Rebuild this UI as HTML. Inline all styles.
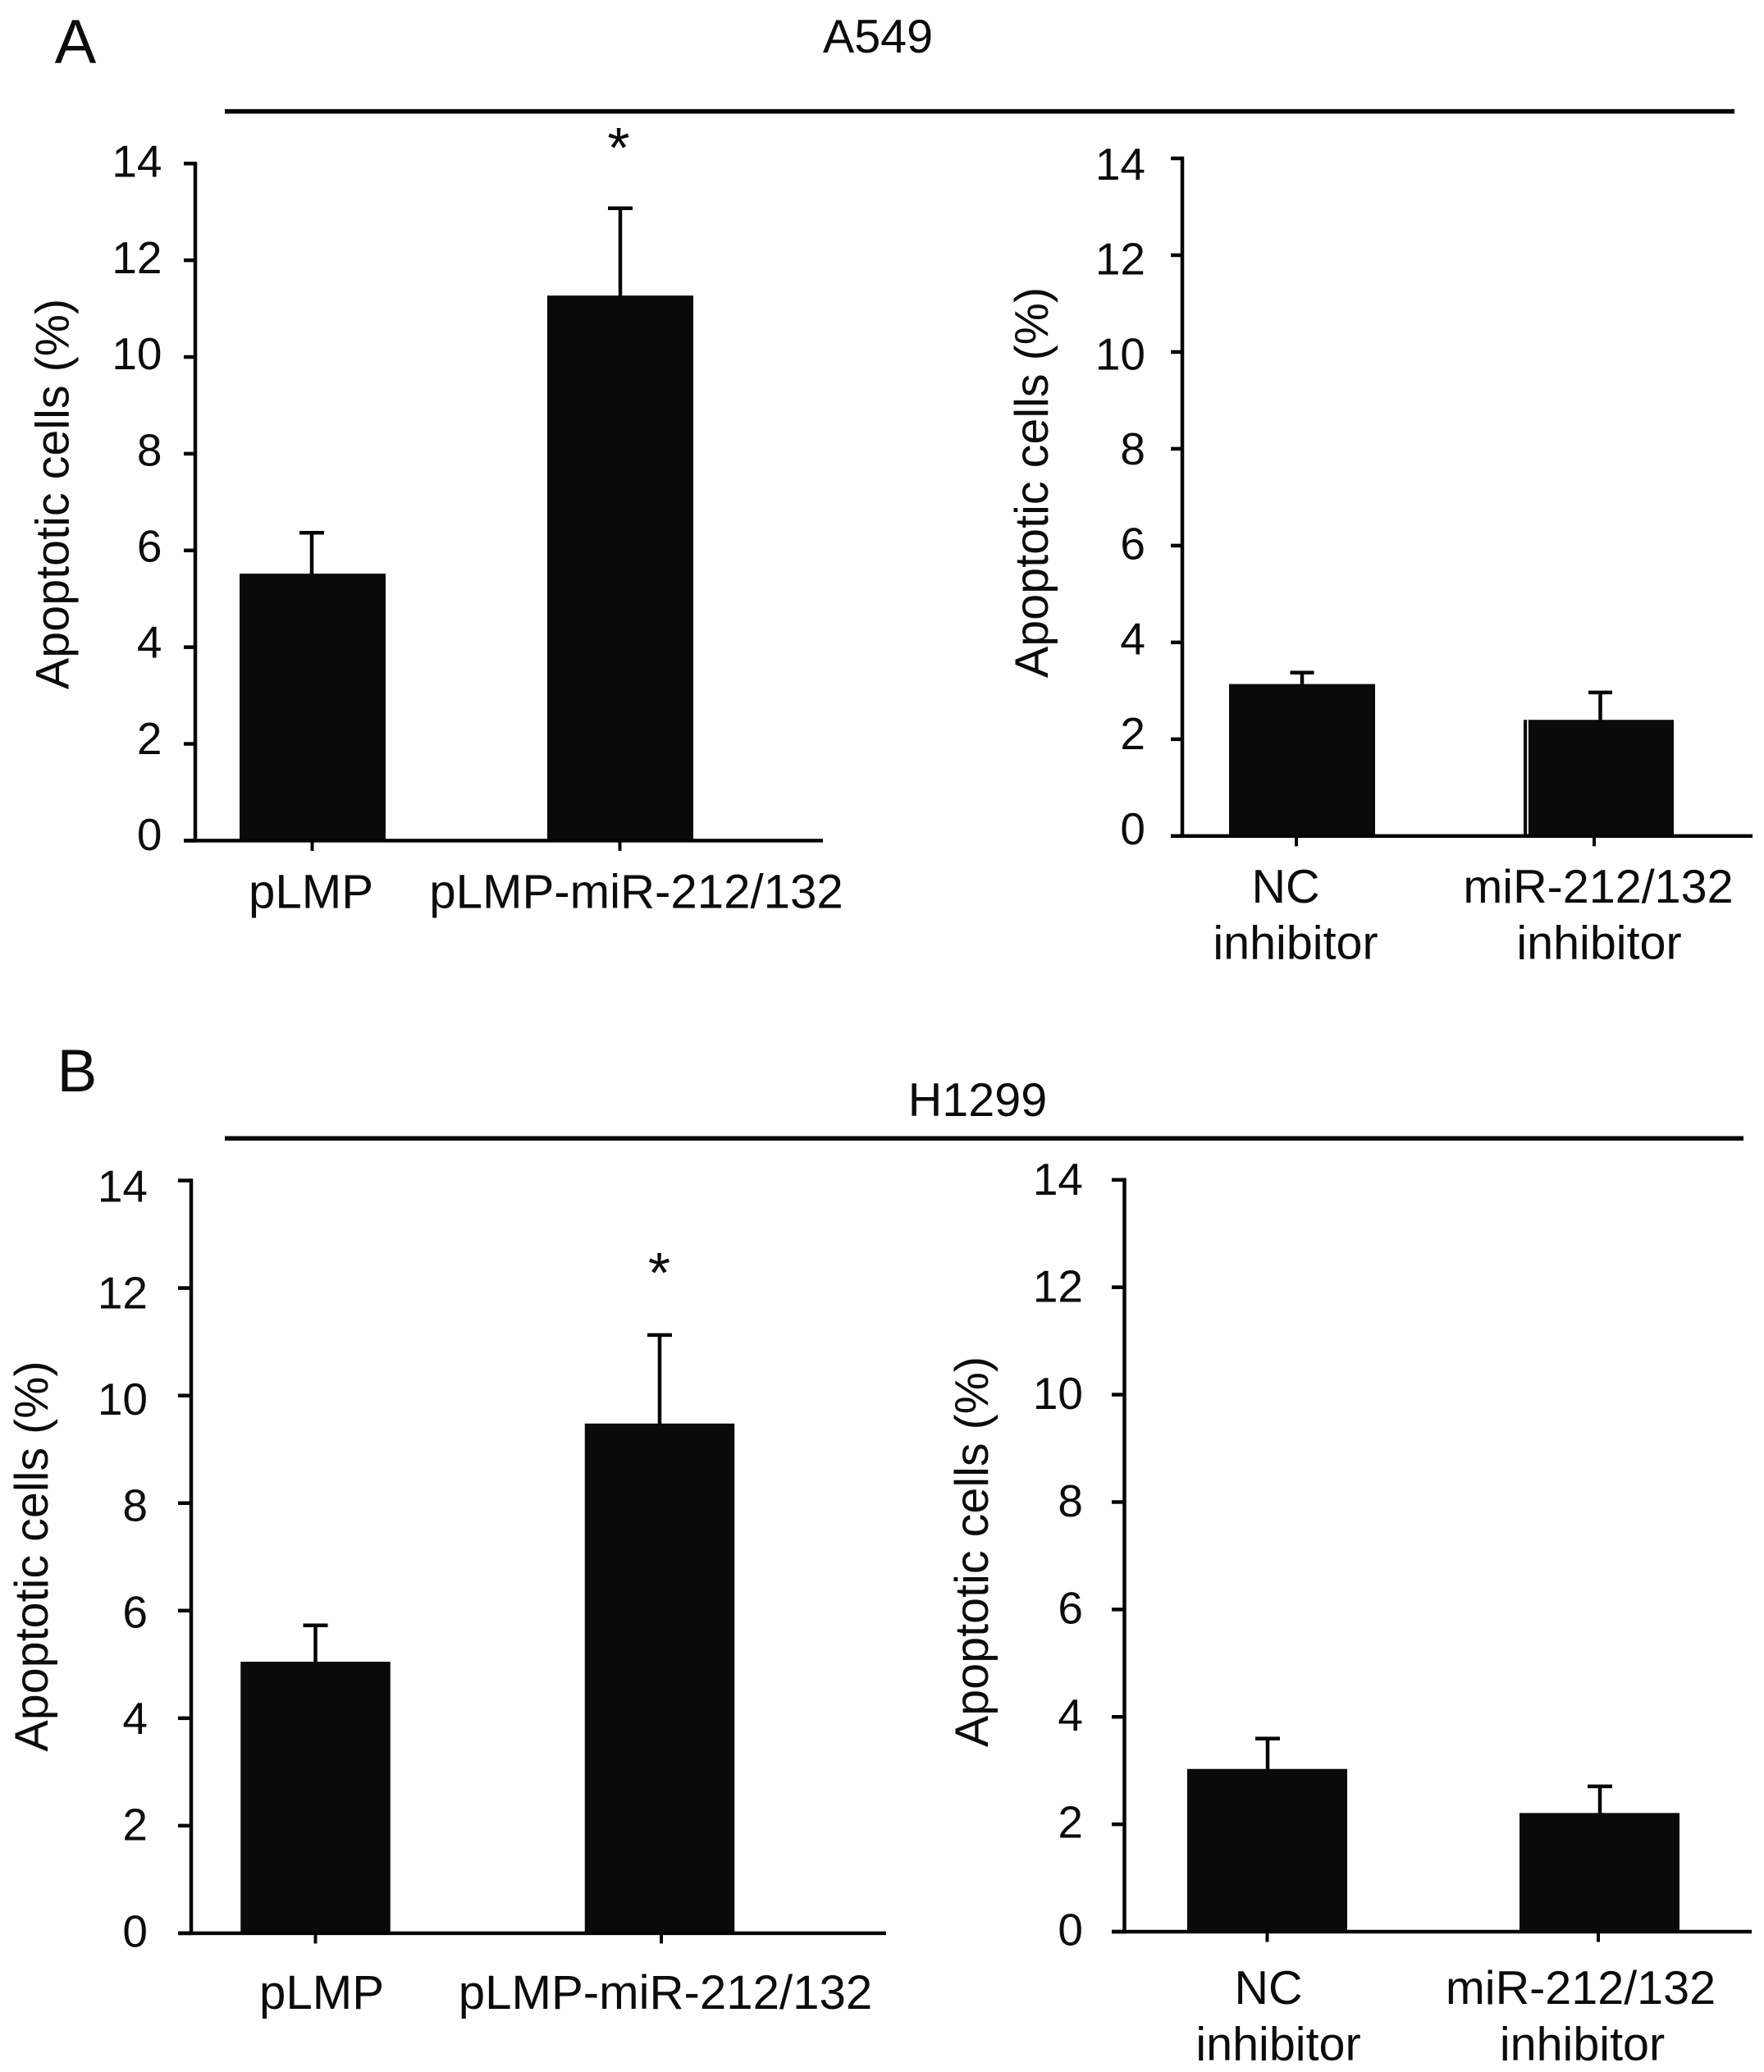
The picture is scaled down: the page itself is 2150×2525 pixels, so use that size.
<!DOCTYPE html>
<html lang="en">
<head>
<meta charset="utf-8">
<title>Apoptotic cells in A549 and H1299</title>
<style>
html,body{margin:0;padding:0;background:#fff;width:2150px;height:2525px;overflow:hidden}
svg{display:block}
text{font-family:"Liberation Sans",Arial,sans-serif;fill:#0c0c0c}
</style>
</head>
<body>
<svg id="figure" width="2150" height="2525" viewBox="0 0 2150 2525" xmlns="http://www.w3.org/2000/svg">
  <rect x="0" y="0" width="2150" height="2525" fill="#ffffff"/>
  <text font-size="76" text-anchor="middle" x="92" y="77">A</text>
  <text font-size="73" text-anchor="middle" x="94" y="1330">B</text>
  <text font-size="57.5" text-anchor="middle" x="1070" y="64">A549</text>
  <text font-size="57.5" text-anchor="middle" x="1191.5" y="1360">H1299</text>
  <rect x="274" y="133" width="1840" height="5.5" fill="#050505"/>
  <rect x="274" y="1384.5" width="1851" height="5.5" fill="#050505"/>
</svg>
<script>
// Shared axis values
const yTickValues = [0, 2, 4, 6, 8, 10, 12, 14];
const yAxisTitle = 'Apoptotic cells (%)';

// A549 overexpression panel
const a549OverCategories = [['pLMP'], ['pLMP-miR-212/132']];
const a549OverValues = [5.52, 11.27];
const a549OverErrors = [0.85, 1.81];

// A549 inhibitor panel
const a549InhibCategories = [['NC', 'inhibitor'], ['miR-212/132', 'inhibitor']];
const a549InhibValues = [3.14, 2.40];
const a549InhibErrors = [0.24, 0.57];

// H1299 overexpression panel
const h1299OverCategories = [['pLMP'], ['pLMP-miR-212/132']];
const h1299OverValues = [5.05, 9.48];
const h1299OverErrors = [0.68, 1.65];

// H1299 inhibitor panel
const h1299InhibCategories = [['NC', 'inhibitor'], ['miR-212/132', 'inhibitor']];
const h1299InhibValues = [3.03, 2.21];
const h1299InhibErrors = [0.57, 0.50];

const SVG_NS = 'http://www.w3.org/2000/svg';
const root = document.getElementById('figure');
const FILL = '#0a0a0a';

function rect(x, y, w, h, name, fill) {
  const el = document.createElementNS(SVG_NS, 'rect');
  el.setAttribute('x', x);
  el.setAttribute('y', y);
  el.setAttribute('width', w);
  el.setAttribute('height', h);
  el.setAttribute('fill', fill || '#050505');
  
  
  root.appendChild(el);
  return el;
}

function label(str, x, y, size, anchor, name, rotated) {
  const el = document.createElementNS(SVG_NS, 'text');
  el.textContent = str;
  el.setAttribute('font-size', size);
  el.setAttribute('text-anchor', anchor);
  el.setAttribute('transform', 'translate(' + x + ' ' + y + ')' + (rotated ? ' rotate(-90)' : ''));
  
  
  root.appendChild(el);
  return el;
}

function drawPanel(p, categories, values, errors) {
  const yScale = v => p.y0 + (p.y14 - p.y0) * v / 14;
  const barCenter = i => p.barStart + i * p.barStep;
  const tickCenter = i => p.tickStart + i * p.tickStep;
  const errCenter = i => p.errStart + i * p.errStep;
  const labelShift = v => p.labelShift14 * (v / 14) + p.labelShift0 * (1 - v / 14);

  values.forEach((v, i) => {
    const top = yScale(v);
    const width = p.barWidth + (p.extraWidthBar === i ? p.extraWidth : 0);
    const bx = barCenter(i) - width / 2;
    const errTop = yScale(v + errors[i]);
    const ex = errCenter(i);
    rect(ex - 2.25, errTop, 4.5, top - errTop + 1, p.id + '-error-stem-' + (i + 1));
    rect(ex - p.capWidth / 2, errTop - 2, p.capWidth, 4.5, p.id + '-error-cap-' + (i + 1));
    rect(bx, top, width, p.y0 - top, p.id + '-bar-' + (i + 1), FILL);
    if (p.sliverBar === i) {
      rect(bx + 4, top, 2, p.y0 - top, p.id + '-bar-' + (i + 1) + '-sliver', '#d8d8d8');
    }
  });

  rect(p.axisX - 2.25, p.y14 - 2.25, 4.5, p.y0 - p.y14 + 4.5, p.id + '-y-axis');
  rect(p.tickLeft, p.y0 - 2.25, p.xEnd - p.tickLeft, 4.5, p.id + '-x-axis');

  yTickValues.forEach(v => {
    const y = yScale(v);
    rect(p.tickLeft, y - 2.25, p.axisX - p.tickLeft, 4.5, p.id + '-y-tick-' + v);
    label(String(v), p.tickLabelX, y + 18 + labelShift(v), 55, 'end', p.id + '-y-tick-label-' + v, false);
  });

  categories.forEach((lines, i) => {
    const x = tickCenter(i);
    rect(x - 2, p.y0, 4, 12.5, p.id + '-x-tick-' + (i + 1));
    lines.forEach((line, j) => {
      const offset = j === 0 ? p.labelDx[i] : p.label2Dx[i];
      label(line, x + offset, p.labelY + j * p.lineGap, p.labelSize, 'middle', p.id + '-x-label-' + (i + 1) + '-line-' + (j + 1), false);
    });
  });

  label(yAxisTitle, p.titleX, p.titleY, 57.5, 'middle', p.id + '-y-axis-title', true);
}

drawPanel({
  id: 'a549-overexpression', axisX: 238, y14: 199.3, y0: 1024.4, xEnd: 1003, tickLeft: 224,
  barStart: 381, barStep: 375, barWidth: 178, tickStart: 380.5, tickStep: 375,
  errStart: 380, errStep: 376, capWidth: 30, tickLabelX: 197.5,
  labelShift14: -1.6, labelShift0: -6.4, labelSize: 58.2,
  labelDx: [-1.5, 20], label2Dx: [0, 0], labelY: 1106.5, lineGap: 0,
  titleX: 83.5, titleY: 602
}, a549OverCategories, a549OverValues, a549OverErrors);

drawPanel({
  id: 'a549-inhibitor', axisX: 1441, y14: 193, y0: 1018.8, xEnd: 2136, tickLeft: 1427,
  barStart: 1587, barStep: 361.5, barWidth: 178, extraWidthBar: 1, extraWidth: 5,
  tickStart: 1580, tickStep: 363,
  errStart: 1587, errStep: 363.5, capWidth: 29, tickLabelX: 1396,
  labelShift14: 8, labelShift0: -8, labelSize: 57.5,
  labelDx: [-13, 5], label2Dx: [-1, 6], labelY: 1100, lineGap: 68.7, sliverBar: 1,
  titleX: 1277, titleY: 588
}, a549InhibCategories, a549InhibValues, a549InhibErrors);

drawPanel({
  id: 'h1299-overexpression', axisX: 233, y14: 1438.6, y0: 2355.9, xEnd: 1080, tickLeft: 217,
  barStart: 384.5, barStep: 419.5, barWidth: 182.5, tickStart: 384.5, tickStep: 421.5,
  errStart: 384.5, errStep: 419.5, capWidth: 30, tickLabelX: 180,
  labelShift14: 8, labelShift0: -1.6, labelSize: 58.2,
  labelDx: [7.5, 5], label2Dx: [0, 0], labelY: 2447.8, lineGap: 0,
  titleX: 58, titleY: 1896.5
}, h1299OverCategories, h1299OverValues, h1299OverErrors);

drawPanel({
  id: 'h1299-inhibitor', axisX: 1370.5, y14: 1437.8, y0: 2354, xEnd: 2135, tickLeft: 1355,
  barStart: 1544.5, barStep: 405, barWidth: 195, tickStart: 1544.5, tickStep: 403.5,
  errStart: 1545, errStep: 405, capWidth: 30, tickLabelX: 1320,
  labelShift14: 0, labelShift0: -1.6, labelSize: 57.5,
  labelDx: [1.5, -21.5], label2Dx: [13.5, -19.5], labelY: 2442, lineGap: 68.4,
  titleX: 1204, titleY: 1891
}, h1299InhibCategories, h1299InhibValues, h1299InhibErrors);

label('*', 754, 204, 70, 'middle', 'a549-significance-asterisk', false);
label('*', 803.5, 1575, 70, 'middle', 'h1299-significance-asterisk', false);
</script>
</body>
</html>
